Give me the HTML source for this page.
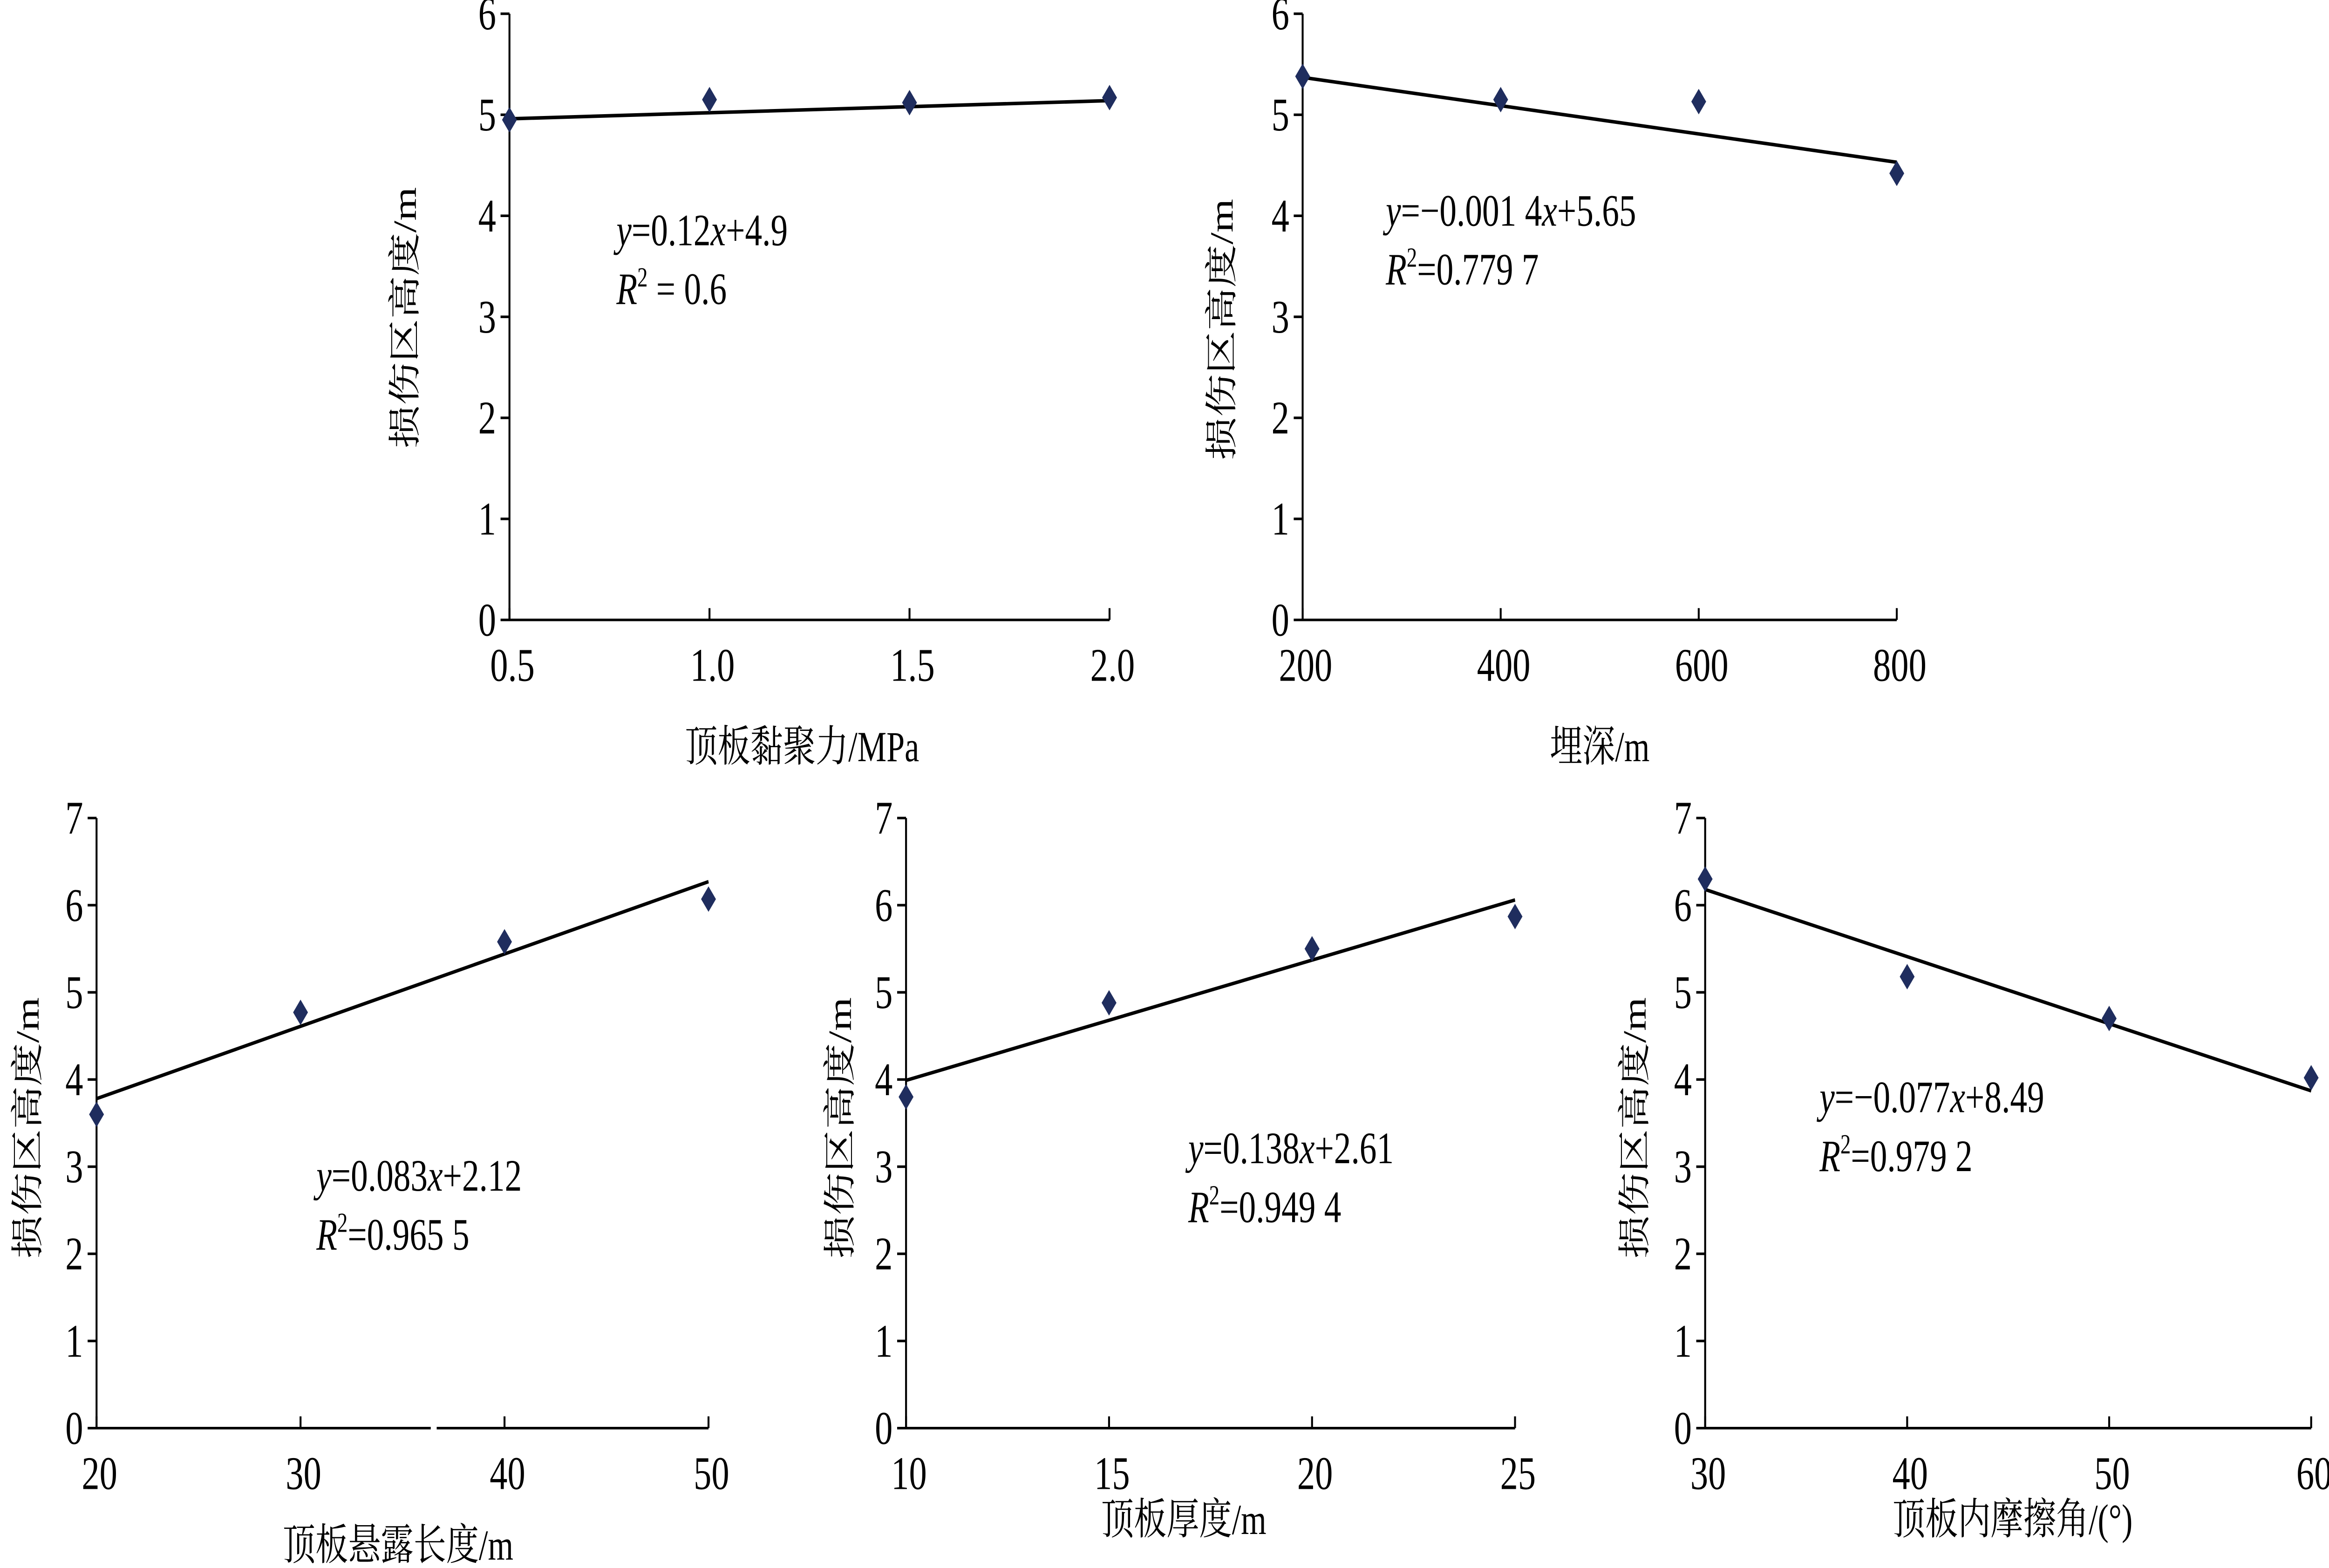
<!DOCTYPE html>
<html><head><meta charset="utf-8"><style>
html,body{margin:0;padding:0;background:#fff;overflow:hidden;width:100%;height:100%;}
svg{display:block;width:100vw;height:100vh;}
text{font-family:"Liberation Serif","Noto Serif CJK SC","Noto Sans CJK SC",serif;fill:#000;}
</style></head><body>
<svg id="fig" xmlns="http://www.w3.org/2000/svg" viewBox="0 0 1568 799.3" preserveAspectRatio="none"></svg>
<script>
// ---- data ----
const c1X = [0.5, 1.0, 1.5, 2.0];
const c1Y = [4.95, 5.15, 5.12, 5.17];
const c1XTicks = ["0.5", "1.0", "1.5", "2.0"];
const c2X = [200, 400, 600, 800];
const c2Y = [5.38, 5.15, 5.13, 4.42];
const c2XTicks = ["200", "400", "600", "800"];
const c3X = [20, 30, 40, 50];
const c3Y = [3.6, 4.77, 5.58, 6.07];
const c3XTicks = ["20", "30", "40", "50"];
const c4X = [10, 15, 20, 25];
const c4Y = [3.8, 4.88, 5.5, 5.87];
const c4XTicks = ["10", "15", "20", "25"];
const c5X = [30, 40, 50, 60];
const c5Y = [6.3, 5.18, 4.7, 4.02];
const c5XTicks = ["30", "40", "50", "60"];
const fitSlope = [0.12, -0.0014, 0.083, 0.138, -0.077];
const fitIntercept = [4.9, 5.65, 2.12, 2.61, 8.49];
const eqLines = [
  ["0.12", "+4.9", " = 0.6"],
  ["\u22120.001 4", "+5.65", "=0.779 7"],
  ["0.083", "+2.12", "=0.965 5"],
  ["0.138", "+2.61", "=0.949 4"],
  ["\u22120.077", "+8.49", "=0.979 2"]
];
const xTitles = ["顶板黏聚力/MPa", "埋深/m", "顶板悬露长度/m", "顶板厚度/m", "顶板内摩擦角/(°)"];

// ---- layout (non-data) ----
const layouts = [
  {x0:343,x1:747,y0:316,y1:7,ymax:6,xmin:0.5,xmax:2.0,eqx:415,eqy:125,ytx:272,yty:162,xtx:540,xty:388},
  {x0:877,x1:1277,y0:316,y1:7,ymax:6,xmin:200,xmax:800,eqx:933,eqy:115,ytx:822,yty:168,xtx:1077,xty:388},
  {x0:65,x1:477,y0:728,y1:417,ymax:7,xmin:20,xmax:50,eqx:213,eqy:607,ytx:18,yty:575,xtx:268,xty:795},
  {x0:610,x1:1020,y0:728,y1:417,ymax:7,xmin:10,xmax:25,eqx:800,eqy:593,ytx:565,yty:575,xtx:797,xty:782},
  {x0:1148,x1:1556,y0:728,y1:417,ymax:7,xmin:30,xmax:60,eqx:1225,eqy:567,ytx:1100,yty:575,xtx:1355,xty:782}
];
const seriesX = [c1X,c2X,c3X,c4X,c5X];
const seriesY = [c1Y,c2Y,c3Y,c4Y,c5Y];
const tickLabels = [c1XTicks,c2XTicks,c3XTicks,c4XTicks,c5XTicks];

const NS = "http://www.w3.org/2000/svg";
const svg = document.getElementById('fig');
function mk(tag, attrs, parent){
  const e = document.createElementNS(NS, tag);
  for (const k in attrs) e.setAttribute(k, attrs[k]);
  parent.appendChild(e);
  return e;
}
layouts.forEach((L, i) => {
  const g = mk('g', {}, svg);
  
  
  const sx = v => L.x0 + (v - L.xmin) / (L.xmax - L.xmin) * (L.x1 - L.x0);
  const sy = v => L.y0 + v / L.ymax * (L.y1 - L.y0);
  const ax = mk('path', {d:`M${L.x0},${L.y1}V${L.y0}H${L.x1}`, fill:'none', stroke:'#000', 'stroke-width':1.3}, g);
  
  
  for (let t = 0; t <= L.ymax; t++) {
    const y = sy(t);
    mk('line', {x1:L.x0-6, x2:L.x0, y1:y, y2:y, stroke:'#000', 'stroke-width':1.3}, g);
    const tl = mk('text', {x:L.x0-9, y:y+8, 'text-anchor':'end', 'font-size':24}, g);
    
    
    tl.textContent = String(t);
  }
  tickLabels[i].forEach(lbl => {
    const x = sx(parseFloat(lbl));
    mk('line', {x1:x, x2:x, y1:L.y0, y2:L.y0-6, stroke:'#000', 'stroke-width':1.3}, g);
    const tl = mk('text', {x:x+2, y:L.y0+31, 'text-anchor':'middle', 'font-size':24}, g);
    
    
    tl.textContent = lbl;
  });
  if (i === 2) mk('rect', {x:290, y:L.y0-2, width:4, height:4, fill:'#fff'}, g);
  const xa = L.xmin, xb = L.xmax;
  const fl = mk('line', {x1:sx(xa), y1:sy(fitSlope[i]*xa+fitIntercept[i]), x2:sx(xb), y2:sy(fitSlope[i]*xb+fitIntercept[i]), stroke:'#000', 'stroke-width':1.8}, g);
  
  
  seriesX[i].forEach((xv, j) => {
    const cx = sx(xv), cy = sy(seriesY[i][j]);
    const p = mk('path', {d:`M${cx},${cy-6.5}L${cx+5},${cy}L${cx},${cy+6.5}L${cx-5},${cy}Z`, fill:'#1f2d5e'}, g);
    
    
  });
  const e1 = mk('text', {x:L.eqx, y:L.eqy, 'font-size':23}, g);
  
  
  e1.innerHTML = `<tspan font-style="italic">y</tspan>=${eqLines[i][0]}<tspan font-style="italic">x</tspan>${eqLines[i][1]}`;
  const e2 = mk('text', {x:L.eqx, y:L.eqy+30, 'font-size':23}, g);
  
  
  e2.innerHTML = `<tspan font-style="italic">R</tspan><tspan font-size="14" dy="-9">2</tspan><tspan dy="9">${eqLines[i][2]}</tspan>`;
  const yt = mk('text', {x:0, y:0, 'text-anchor':'middle', 'font-size':22, transform:`translate(${L.ytx+8},${L.yty}) rotate(-90)`}, g);
  
  
  yt.textContent = '损伤区高度/m';
  const xt = mk('text', {x:L.xtx, y:L.xty, 'text-anchor':'middle', 'font-size':22}, g);
  
  
  xt.textContent = xTitles[i];
});
</script>
</body></html>
